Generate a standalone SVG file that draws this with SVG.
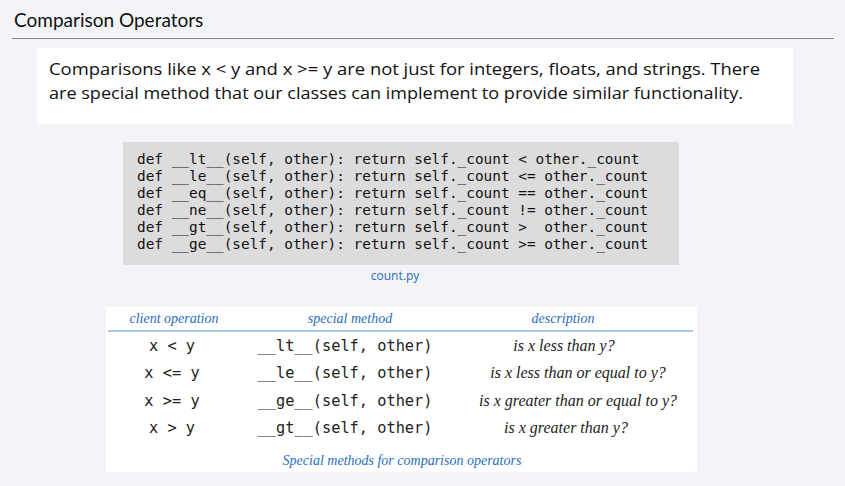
<svg xmlns="http://www.w3.org/2000/svg" width="845" height="486" viewBox="0 0 845 486">
<style>
.code{font-family:"DejaVu Sans Mono",monospace;font-size:14.4px;fill:#111;white-space:pre}
.m{font-family:"DejaVu Sans Mono",monospace;font-size:15.3px;fill:#222}
.it{font-family:"Liberation Serif",serif;font-style:italic;font-size:16px;fill:#222}
.hd{font-family:"Liberation Serif",serif;font-style:italic;font-size:14px;fill:#2a6ebb}
</style>
<rect width="845" height="486" fill="#f2f4f7"/>
<g id="title">
<text x="14" y="27" font-family="Lato,'Open Sans',sans-serif" font-size="19" fill="#111">Comparison Operators</text>
<line x1="12" y1="38.5" x2="834" y2="38.5" stroke="#888" stroke-width="1"/>
</g>
<g id="intro">
<rect x="37" y="48" width="756" height="76" fill="#fff"/>
<text font-family="'Open Sans',sans-serif" font-size="17" fill="#111"><tspan x="49" y="75" textLength="711" lengthAdjust="spacingAndGlyphs">Comparisons like x &lt; y and x &gt;= y are not just for integers, floats, and strings. There</tspan><tspan x="49" y="99" textLength="694" lengthAdjust="spacingAndGlyphs">are special method that our classes can implement to provide similar functionality.</tspan></text>
</g>
<g id="code">
<rect x="123" y="142" width="556" height="123" fill="#dcdcdd"/>
<text class="code" xml:space="preserve"><tspan x="137" y="164">def __lt__(self, other): return self._count &lt; other._count</tspan><tspan x="137" y="181">def __le__(self, other): return self._count &lt;= other._count</tspan><tspan x="137" y="198">def __eq__(self, other): return self._count == other._count</tspan><tspan x="137" y="215">def __ne__(self, other): return self._count != other._count</tspan><tspan x="137" y="232">def __gt__(self, other): return self._count &gt;  other._count</tspan><tspan x="137" y="249">def __ge__(self, other): return self._count &gt;= other._count</tspan></text>
<text x="395" y="280" text-anchor="middle" font-family="'Open Sans',sans-serif" font-size="12" fill="#2a6ebb">count.py</text>
</g>
<g id="table">
<rect x="106" y="307" width="591" height="165" fill="#fff"/>
<text class="hd" x="174" y="323" text-anchor="middle">client operation</text>
<text class="hd" x="350" y="323" text-anchor="middle">special method</text>
<text class="hd" x="563" y="323" text-anchor="middle">description</text>
<line x1="108" y1="331" x2="693" y2="331" stroke="#5b8fc9" stroke-width="1.2"/>
<g class="m" text-anchor="middle" xml:space="preserve">
<text x="172" y="351">x &lt; y</text><text x="172" y="378">x &lt;= y</text><text x="172" y="406">x &gt;= y</text><text x="172" y="433">x &gt; y</text>
<text x="345" y="351">__lt__(self, other)</text><text x="345" y="378">__le__(self, other)</text><text x="345" y="406">__ge__(self, other)</text><text x="345" y="433">__gt__(self, other)</text>
</g>
<g class="it" text-anchor="middle">
<text x="564" y="351">is x less than y?</text><text x="578" y="378">is x less than or equal to y?</text><text x="578" y="406">is x greater than or equal to y?</text><text x="566" y="433">is x greater than y?</text>
</g>
<text class="hd" x="402" y="465" text-anchor="middle" font-size="15.5">Special methods for comparison operators</text>
</g>
</svg>
